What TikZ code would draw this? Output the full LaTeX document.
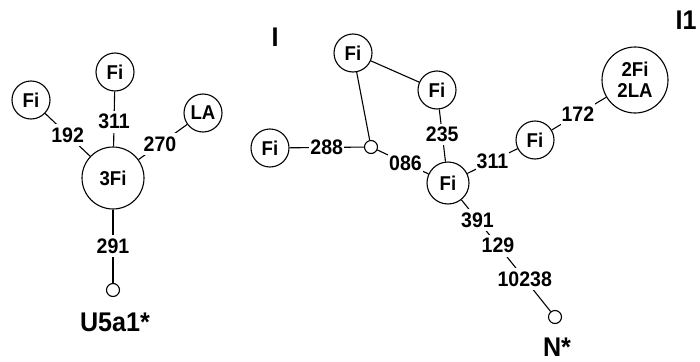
\documentclass[tikz,border=0pt]{standalone}
\usepackage{fontspec}
\setmainfont{Liberation Sans}[FakeStretch=0.93]

\begin{document}
\begin{tikzpicture}[x=1pt,y=-1pt,
    hap/.style={circle,draw,line width=1.1pt,inner sep=0pt,minimum size=38pt,
                font=\bfseries\fontsize{20}{20}\selectfont,align=center},
    med/.style={circle,draw,line width=1.1pt,inner sep=0pt,minimum size=13pt},
    mut/.style={fill=white,inner xsep=1pt,inner ysep=3.5pt,
                font=\bfseries\fontsize{21}{22}\selectfont},
    tag/.style={font=\bfseries\fontsize{27}{28}\selectfont},
    link/.style={line width=1.1pt}]

  % ===== Marco =====
  \useasboundingbox (0,0) rectangle (700,361);

  % ===== Red U5a1 =====
  \node[hap] (uFiA) at (31,100) {Fi};
  \node[hap] (uFiB) at (115,72) {Fi};
  \node[hap] (uLA)  at (203,113) {LA};
  \node[hap,minimum size=62pt] (uCore) at (113,178) {3Fi};
  \node[med] (uMed) at (113,290) {};
  \node[tag] (uName) at (115,322) {U5a1*};

  \draw[link] (uFiA) -- node[mut] {192} (uCore);
  \draw[link] (uFiB) -- node[mut,pos=0.55] {311} (uCore);
  \draw[link] (uLA)  -- node[mut,pos=0.56] {270} (uCore);
  \draw[link] (uCore) -- node[mut] {291} (uMed);

  % ===== Red I / I1 =====
  \node[tag] (iName)  at (275,37) {I};
  \node[tag] (iaName) at (686,20) {I1};

  \node[hap] (iFiA) at (353,53) {Fi};
  \node[hap] (iFiB) at (437,90) {Fi};
  \node[hap] (iFiC) at (270,148) {Fi};
  \node[med] (iMed) at (371,147) {};
  \node[hap,minimum size=42pt] (iCore) at (448,183) {Fi};
  \node[hap] (iFiD) at (535,140) {Fi};
  \node[hap,minimum size=66pt] (iBig) at (635,80) {2Fi\\[1pt]2LA};
  \node[med] (nMed) at (555,317) {};
  \node[tag] (nName) at (557,347) {N*};

  \draw[link] (iFiA) -- (iFiB);
  \draw[link] (iFiA) -- (iMed);
  \draw[link] (iFiC) -- node[mut] {288} (iMed);
  \draw[link] (iMed) -- node[mut,pos=0.55] {086} (iCore);
  \draw[link] (iFiB) -- node[mut,pos=0.48] {235} (iCore);
  \draw[link] (iCore) -- node[mut] {311} (iFiD);
  \draw[link] (iFiD) -- node[mut,pos=0.48] {172} (iBig);

  % ===== Cadena hacia N =====
  \draw[link] (iCore) -- node[mut,pos=0.18] {391}
                         node[mut,pos=0.41] {129}
                         node[mut,pos=0.71] {10238} (nMed);

\end{tikzpicture}
\end{document}
